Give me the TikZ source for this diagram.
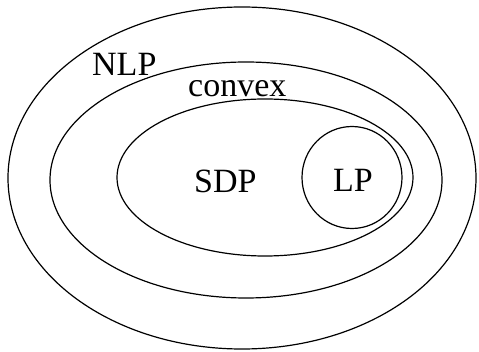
\documentclass[tikz,border=0pt]{standalone}
\usepackage{fontspec}
\setmainfont{Liberation Serif}
\begin{document}
\begin{tikzpicture}[x=1pt,y=-1pt,
  set/.style={draw=black,line width=1.2pt},
  lbl/.style={inner sep=0pt,anchor=base west,font=\fontsize{34}{40}\selectfont}]
\useasboundingbox (0,0) rectangle (479,352);
\draw[set] (242,178) ellipse [x radius=234pt,y radius=171pt];
\draw[set] (246,180) ellipse [x radius=196pt,y radius=118pt];
\draw[set] (265,177.5) ellipse [x radius=148pt,y radius=78.5pt];
\draw[set] (352,177.5) ellipse [x radius=50pt,y radius=51pt];
\node[lbl] (nlp) at (92,76) {NLP};
\node[lbl] (convex) at (188,97) {convex};
\node[lbl] (sdp) at (194,193) {SDP};
\node[lbl] (lp) at (333,192) {LP};
\end{tikzpicture}
\end{document}
